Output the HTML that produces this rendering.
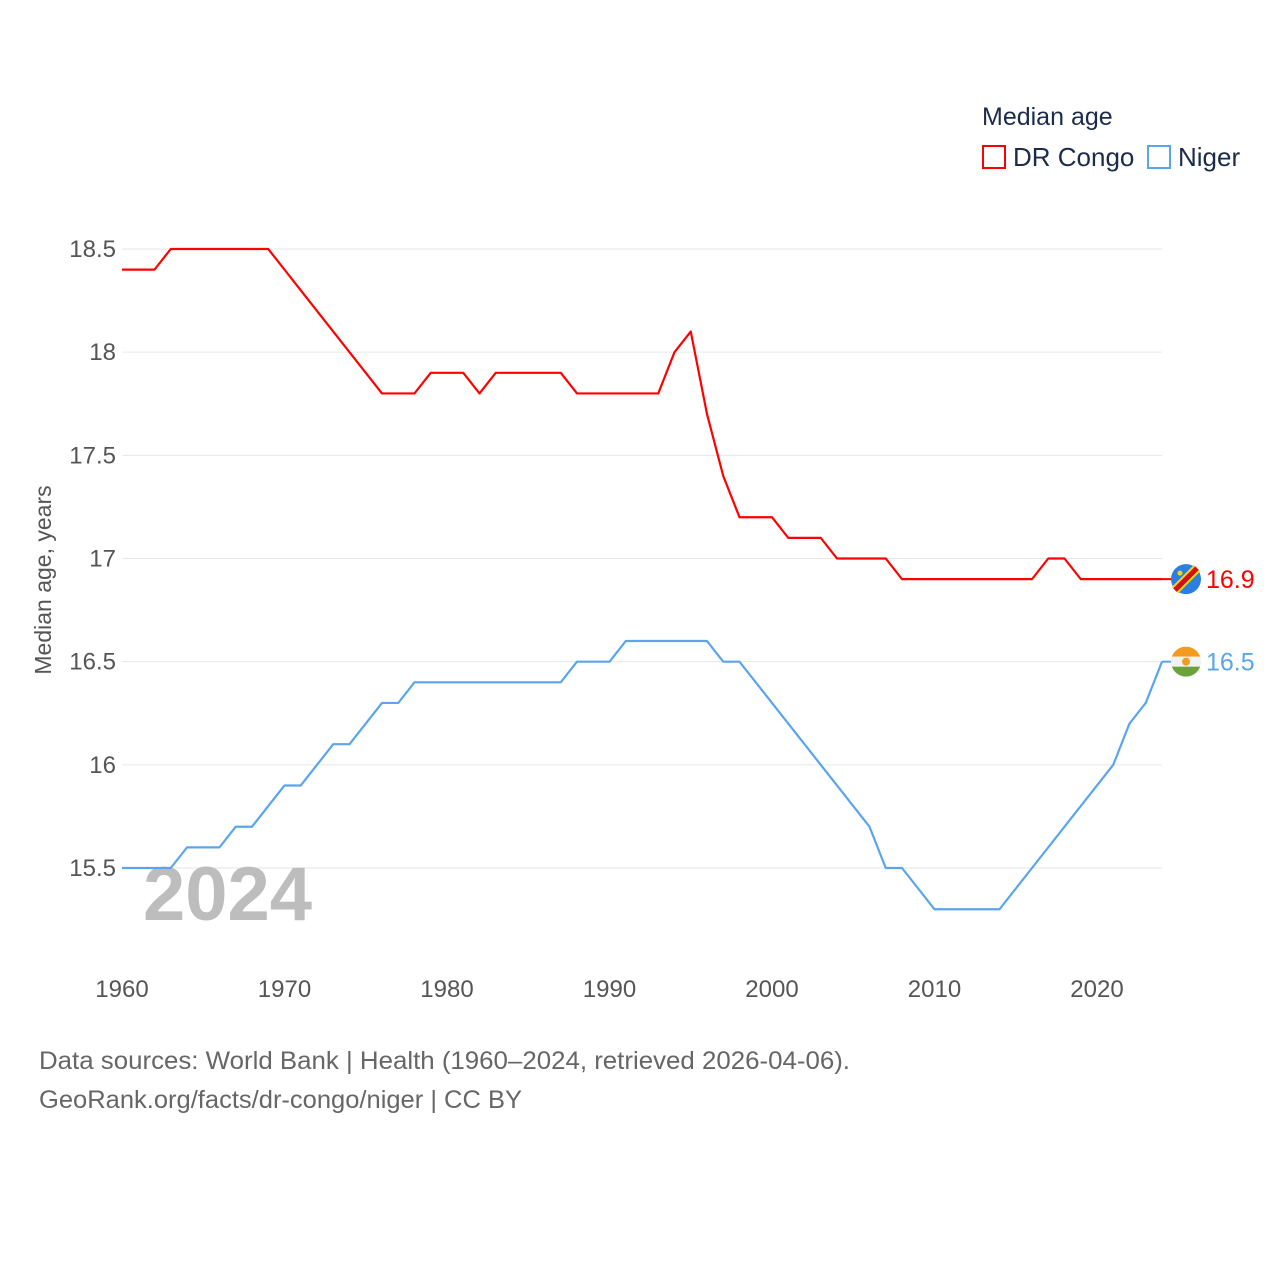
<!DOCTYPE html>
<html><head><meta charset="utf-8">
<style>
body{margin:0;background:#fff;}
svg text{font-family:"Liberation Sans",sans-serif;}
</style></head>
<body>
<svg width="1280" height="1280" viewBox="0 0 1280 1280" xmlns="http://www.w3.org/2000/svg">
<rect width="1280" height="1280" fill="#fff"/>
<g>
<text x="982" y="125" font-size="25" fill="#1c2b4a">Median age</text>
<g>
<rect x="983" y="146" width="22" height="22" fill="none" stroke="#f00" stroke-width="2"/>
<text x="1013" y="166" font-size="26" fill="#1c2b4a">DR Congo</text></g>
<g>
<rect x="1148" y="146" width="22" height="22" fill="none" stroke="#5aa5ec" stroke-width="2"/>
<text x="1178" y="166" font-size="26" fill="#1c2b4a">Niger</text></g>
</g>
<g id="grid"></g>
<g id="yticks"></g>
<g id="xticks"></g>
<text x="143" y="920" font-size="76" font-weight="bold" fill="#bdbdbd">2024</text>
<text transform="translate(51,580) rotate(-90)" text-anchor="middle" font-size="23" fill="#555">Median age, years</text>
<g id="series"></g>
<g id="flags"></g>
<text x="39" y="1069" font-size="25" fill="#666" textLength="811" lengthAdjust="spacingAndGlyphs">Data sources: World Bank | Health (1960–2024, retrieved 2026-04-06).</text>
<text x="39" y="1108" font-size="25" fill="#666" textLength="483" lengthAdjust="spacingAndGlyphs">GeoRank.org/facts/dr-congo/niger | CC BY</text>
</svg>
<script>
const years = [];for(let y=1960;y<=2024;y++)years.push(y);
const congo = [18.4,18.4,18.4,18.5,18.5,18.5,18.5,18.5,18.5,18.5,18.4,18.3,18.2,18.1,18.0,17.9,17.8,17.8,17.8,17.9,17.9,17.9,17.8,17.9,17.9,17.9,17.9,17.9,17.8,17.8,17.8,17.8,17.8,17.8,18.0,18.1,17.7,17.4,17.2,17.2,17.2,17.1,17.1,17.1,17.0,17.0,17.0,17.0,16.9,16.9,16.9,16.9,16.9,16.9,16.9,16.9,16.9,17.0,17.0,16.9,16.9,16.9,16.9,16.9,16.9];
const niger = [15.5,15.5,15.5,15.5,15.6,15.6,15.6,15.7,15.7,15.8,15.9,15.9,16.0,16.1,16.1,16.2,16.3,16.3,16.4,16.4,16.4,16.4,16.4,16.4,16.4,16.4,16.4,16.4,16.5,16.5,16.5,16.6,16.6,16.6,16.6,16.6,16.6,16.5,16.5,16.4,16.3,16.2,16.1,16.0,15.9,15.8,15.7,15.5,15.5,15.4,15.3,15.3,15.3,15.3,15.3,15.4,15.5,15.6,15.7,15.8,15.9,16.0,16.2,16.3,16.5];
const yTicks = [15.5,16,16.5,17,17.5,18,18.5];
const xTicks = [1960,1970,1980,1990,2000,2010,2020];
const NS="http://www.w3.org/2000/svg";
const xs=v=>122+(v-1960)*(1162-122)/64;
const ys=v=>868-(v-15.5)*(868-249)/3;
function mk(t,a,p){const e=document.createElementNS(NS,t);for(const k in a)e.setAttribute(k,a[k]);p.appendChild(e);return e;}
const grid=document.getElementById('grid'),yt=document.getElementById('yticks'),xt=document.getElementById('xticks');
yTicks.forEach(v=>{
 const l=mk('line',{x1:122,x2:1162,y1:ys(v),y2:ys(v),stroke:'#e6e6e6','stroke-width':1},grid);
 
 
 const t=mk('text',{x:116,y:ys(v)+8,'text-anchor':'end','font-size':24,fill:'#555'},yt);
 t.textContent=String(v);
 
 
});
xTicks.forEach(v=>{
 const t=mk('text',{x:xs(v),y:997,'text-anchor':'middle','font-size':24,fill:'#555'},xt);
 t.textContent=String(v);
 
 
});
const ser=document.getElementById('series');
function line(vals,color,name){
 const d=vals.map((v,i)=>(i?'L':'M')+xs(years[i]).toFixed(2)+','+ys(v).toFixed(2)).join(' ');
 const p=mk('path',{d:d,fill:'none',stroke:color,'stroke-width':2.2,'stroke-linejoin':'round'},ser);
 
 
}
line(congo,'#ff0000','line-dr-congo');
line(niger,'#5aa5ec','line-niger');
const fl=document.getElementById('flags');
const cy=ys(congo[congo.length-1]), ny=ys(niger[niger.length-1]);
const lx=xs(2024);
mk('line',{x1:lx,x2:1172,y1:cy,y2:cy,stroke:'#ff0000','stroke-width':2},fl);
mk('line',{x1:lx,x2:1172,y1:ny,y2:ny,stroke:'#5aa5ec','stroke-width':2},fl);
const g1=mk('g',{},fl);


mk('circle',{cx:1186,cy:cy,r:15,fill:'#2b7fe0'},g1);
mk('line',{x1:1175,y1:cy+11,x2:1197,y2:cy-11,stroke:'#f7d618','stroke-width':9},g1);
mk('line',{x1:1175,y1:cy+11,x2:1197,y2:cy-11,stroke:'#ce1021','stroke-width':5},g1);
mk('circle',{cx:1180,cy:cy-6,r:2.5,fill:'#f7d618'},g1);
const g2=mk('g',{},fl);


const cp=mk('clipPath',{id:'nc'},g2);mk('circle',{cx:1186,cy:ny,r:15},cp);
mk('rect',{x:1171,y:ny-15,width:30,height:10,fill:'#f39b1e','clip-path':'url(#nc)'},g2);
mk('rect',{x:1171,y:ny-5,width:30,height:10,fill:'#f2f2f2','clip-path':'url(#nc)'},g2);
mk('rect',{x:1171,y:ny+5,width:30,height:10,fill:'#6aa33c','clip-path':'url(#nc)'},g2);
mk('circle',{cx:1186,cy:ny,r:4,fill:'#f39b1e'},g2);
const t1=mk('text',{x:1206,y:cy+9,'font-size':25,fill:'#ff0000'},fl);t1.textContent=congo[congo.length-1].toFixed(1);


const t2=mk('text',{x:1206,y:ny+9,'font-size':25,fill:'#5aa5ec'},fl);t2.textContent=niger[niger.length-1].toFixed(1);


</script>
</body></html>
